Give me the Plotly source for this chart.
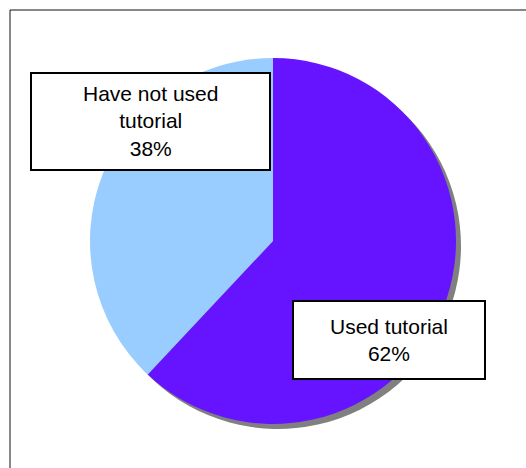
import plotly.graph_objects as go

# Data
categories = ["Used tutorial", "Have not used tutorial"]
display_labels = ["Used tutorial", "Have not used<br>tutorial"]
values = [62, 38]
colors = ["#6614FF", "#99CCFF"]

W, H = 526, 468
cx, cy, r = 273, 241, 183  # pixel centre/radius (from top-left)
sh = 5  # shadow offset px


def dom(cx_, cy_, r_):
    return dict(
        x=[(cx_ - r_) / W, (cx_ + r_) / W],
        y=[(H - cy_ - r_) / H, (H - cy_ + r_) / H],
    )


fig = go.Figure()
# shadow
fig.add_trace(go.Pie(
    labels=categories, values=values, sort=False, direction="clockwise",
    rotation=0, textinfo="none", hoverinfo="skip",
    marker=dict(colors=["#808080", "#808080"], line=dict(width=0)),
    domain=dom(cx + sh, cy + sh, r), showlegend=False,
))
# main pie
fig.add_trace(go.Pie(
    labels=categories, values=values, sort=False, direction="clockwise",
    rotation=0, textinfo="none",
    marker=dict(colors=colors, line=dict(width=0)),
    domain=dom(cx, cy, r), showlegend=False,
))

# label boxes (pixel coords: x0, y0, x1, y1 from top-left)
boxes = [(293, 301, 485, 379), (31, 73, 270, 170)]

shapes = [
    dict(type="rect", xref="paper", yref="paper",
         x0=10 / W, x1=1.05, y0=-0.05, y1=(H - 10) / H,
         line=dict(color="#111111", width=1), fillcolor="rgba(0,0,0,0)", layer="below"),
]
annotations = []
for (x0, y0, x1, y1), lab, v in zip(boxes, display_labels, values):
    shapes.append(dict(type="rect", xref="paper", yref="paper",
                       x0=x0 / W, x1=x1 / W, y0=(H - y1) / H, y1=(H - y0) / H,
                       line=dict(color="black", width=2), fillcolor="white", layer="above"))
    annotations.append(dict(
        x=(x0 + x1) / 2 / W, y=(H - (y0 + y1) / 2) / H, xref="paper", yref="paper",
        text=f"{lab}<br>{v}%", showarrow=False, align="center",
        xanchor="center", yanchor="middle",
        font=dict(family="Liberation Sans, Arial", size=21, color="black"),
    ))

fig.update_layout(
    width=W, height=H, margin=dict(l=0, r=0, t=0, b=0),
    paper_bgcolor="white", plot_bgcolor="white",
    shapes=shapes, annotations=annotations, showlegend=False,
)

fig.write_html("out.html")
